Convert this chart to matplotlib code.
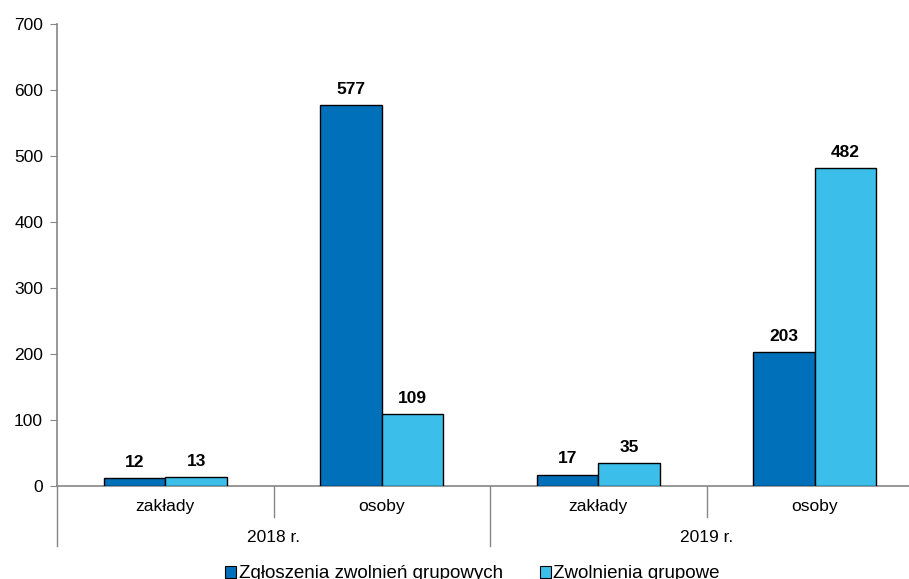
import matplotlib.pyplot as plt
import matplotlib.transforms as mtransforms
from matplotlib.patches import Patch

plt.rcParams['font.family'] = ['Liberation Sans', 'DejaVu Sans']

years = ["2018 r.", "2019 r."]
subcats = ["zakłady", "osoby", "zakłady", "osoby"]
series_names = ["Zgłoszenia zwolnień grupowych", "Zwolnienia grupowe"]
zgloszenia = [12, 577, 17, 203]
zwolnienia = [13, 109, 35, 482]
colors = ["#0070BA", "#3BBFEA"]

fig = plt.figure(figsize=(9.09, 5.79), dpi=100)
W, H = 909, 579
left, right, top, bottom = 57, 923, 24, 486
ax = fig.add_axes([left / W, 1 - bottom / H, (right - left) / W, (bottom - top) / H])

x = list(range(len(subcats)))
bw = 0.285
for vals, col, off in [(zgloszenia, colors[0], -bw / 2), (zwolnienia, colors[1], bw / 2)]:
    xs = [i + off for i in x]
    ax.bar(xs, vals, width=bw, color=col, edgecolor="black", linewidth=1.0, zorder=3)
    for xi, v in zip(xs, vals):
        ax.annotate(str(v), (xi, v), xytext=(0, 6), textcoords="offset points",
                    ha="center", va="bottom", fontsize=12.5, fontweight="bold")

ax.set_xlim(-0.5, len(subcats) - 0.5)
ax.set_ylim(0, 700)
ax.set_yticks(range(0, 701, 100))
ax.tick_params(axis="y", labelsize=12.5, length=5, color="#868686", pad=5)
ax.tick_params(axis="x", length=0)
ax.set_xticks([])

for s in ["top", "right"]:
    ax.spines[s].set_visible(False)
for s in ["left", "bottom"]:
    ax.spines[s].set_color("#868686")
    ax.spines[s].set_linewidth(1.2)

trans = mtransforms.blended_transform_factory(ax.transData, ax.transAxes)
px = 1 / (bottom - top)
# short separators between subcategories
for xs in [0.5, 2.5]:
    ax.plot([xs, xs], [0, -31 * px], transform=trans, color="#868686", lw=1.0, clip_on=False)
# long separators between years
for xs in [-0.5, 1.5, 3.5]:
    ax.plot([xs, xs], [0, -60 * px], transform=trans, color="#868686", lw=1.0, clip_on=False)

for i, lab in enumerate(subcats):
    ax.text(i, -21 * px, lab, transform=trans, ha="center", va="center", fontsize=12.5)
for j, lab in enumerate(years):
    ax.text(2 * j + 0.5, -51 * px, lab, transform=trans, ha="center", va="center", fontsize=12.5)

handles = [Patch(facecolor=c, edgecolor="black", linewidth=0.8) for c in colors]
fig.legend(handles, series_names, loc="center", bbox_to_anchor=(0.52, 1 - 574 / H),
           ncol=2, frameon=False, fontsize=13.5, handlelength=0.55, handleheight=0.55,
           handletextpad=0.15, columnspacing=2.0)

fig.savefig("out.png", dpi=100)
